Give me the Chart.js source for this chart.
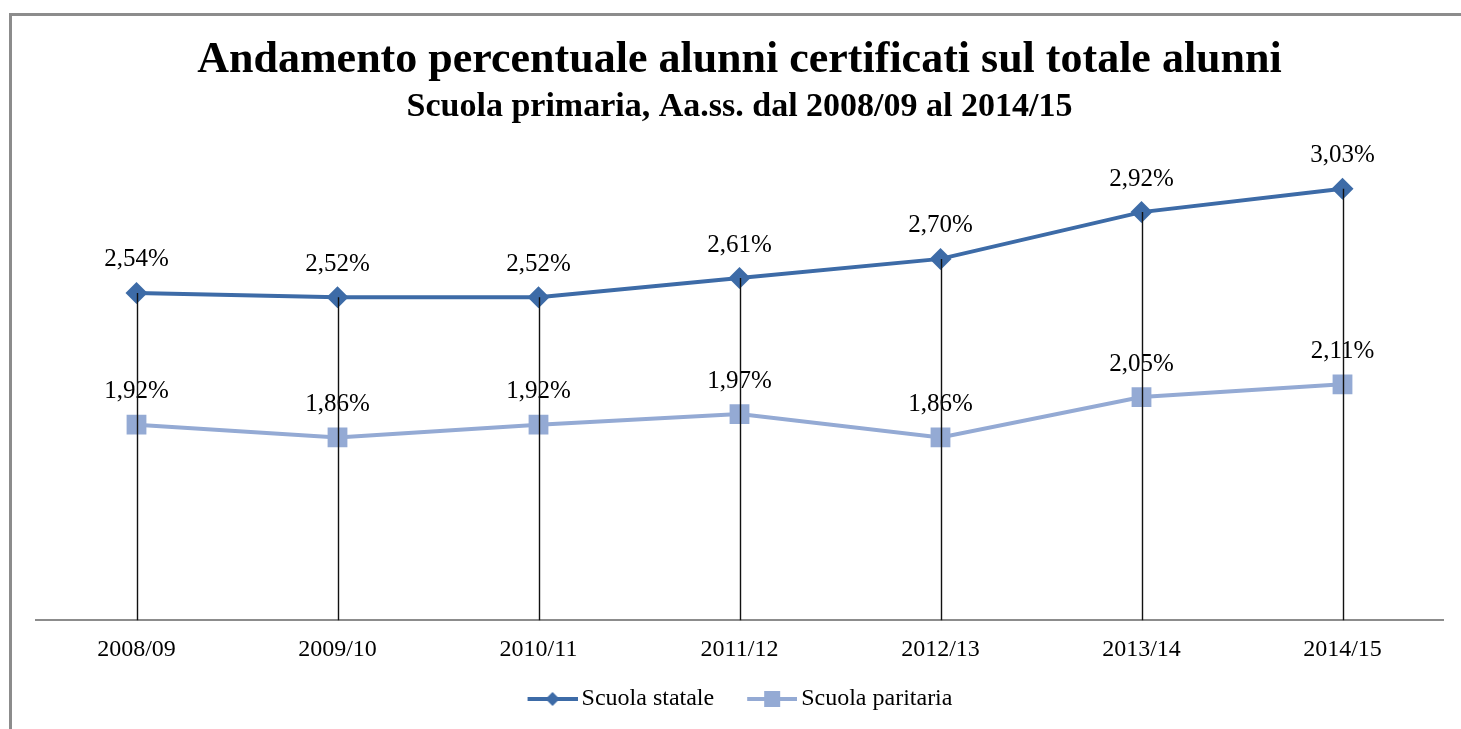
<!DOCTYPE html>
<html>
<head>
<meta charset="utf-8">
<script src="https://cdn.jsdelivr.net/npm/chart.js@4.4.0/dist/chart.umd.min.js"></script>
<style>
  html, body { margin: 0; padding: 0; background: #fff; }
  #wrap { position: relative; width: 1461px; height: 729px; }
</style>
</head>
<body>
<div id="wrap"><canvas id="grafico"></canvas></div>
<script>
// dati
const anni = ['2008/09', '2009/10', '2010/11', '2011/12', '2012/13', '2013/14', '2014/15'];
const statale = [2.54, 2.52, 2.52, 2.61, 2.70, 2.92, 3.03];
const paritaria = [1.92, 1.86, 1.92, 1.97, 1.86, 2.05, 2.11];
const nomiSerie = ['Scuola statale', 'Scuola paritaria'];
const titolo = 'Andamento percentuale alunni certificati sul totale alunni';
const sottotitolo = 'Scuola primaria, Aa.ss. dal 2008/09 al 2014/15';

const colori = ['#3D6BA7', '#94AAD4'];
const FONT = "'Liberation Serif', 'Times New Roman', serif";

const fmt = v => v.toFixed(2).replace('.', ',') + '%';

// campione della legenda: linea con marcatore al centro
function campione(colore, tipo) {
    const c = document.createElement('canvas');
    c.width = 83; c.height = 24;
    const g = c.getContext('2d');
    g.strokeStyle = colore;
    g.lineWidth = 4;
    g.beginPath(); g.moveTo(33, 12); g.lineTo(83, 12); g.stroke();
    g.fillStyle = colore;
    g.beginPath();
    if (tipo === 'rombo') {
        g.moveTo(58, 5); g.lineTo(65, 12); g.lineTo(58, 19); g.lineTo(51, 12);
    } else {
        g.rect(50, 4, 16, 16);
    }
    g.fill();
    return c;
}
const campioni = [campione(colori[0], 'rombo'), campione(colori[1], 'quadrato')];

// cornice + piccolo spostamento della legenda
const cornice = {
    id: 'cornice',
    afterLayout(chart) {
        chart.legend.left -= 12;
        chart.legend.right -= 12;
    },
    beforeDraw(chart) {
        const ctx = chart.ctx;
        ctx.save();
        ctx.fillStyle = '#fff';
        ctx.fillRect(0, 0, chart.width, chart.height);
        ctx.strokeStyle = '#8c8c8c';
        ctx.lineWidth = 3;
        ctx.strokeRect(10.5, 14.5, 2000, 2000);
        ctx.restore();
    }
};

// etichette dati e linee di proiezione
const etichette = {
    id: 'etichette',
    afterDatasetsDraw(chart) {
        const ctx = chart.ctx;
        const fondo = chart.chartArea.bottom;
        ctx.save();
        ctx.font = '25px ' + FONT;
        ctx.fillStyle = '#000';
        ctx.textAlign = 'center';
        ctx.textBaseline = 'middle';
        chart.data.datasets.forEach((ds, i) => {
            chart.getDatasetMeta(i).data.forEach((p, j) => {
                ctx.fillText(fmt(ds.data[j]), p.x, p.y - 33);
            });
        });
        // linee verticali dal punto più alto all'asse
        const m0 = chart.getDatasetMeta(0).data;
        const m1 = chart.getDatasetMeta(1).data;
        ctx.strokeStyle = '#111';
        ctx.lineWidth = 1.4;
        m0.forEach((p, j) => {
            const top = Math.min(p.y, m1[j].y);
            ctx.beginPath();
            ctx.moveTo(Math.round(p.x) + 0.5, top);
            ctx.lineTo(Math.round(p.x) + 0.5, fondo);
            ctx.stroke();
        });
        ctx.restore();
    }
};

new Chart(document.getElementById('grafico'), {
    type: 'line',
    data: {
        labels: anni,
        datasets: [{
            label: nomiSerie[0],
            data: statale,
            borderColor: colori[0],
            backgroundColor: colori[0],
            borderWidth: 4,
            pointStyle: 'rectRot',
            pointRadius: 11,
            pointBorderWidth: 0,
            tension: 0,
        }, {
            label: nomiSerie[1],
            data: paritaria,
            borderColor: colori[1],
            backgroundColor: colori[1],
            borderWidth: 4,
            pointStyle: 'rect',
            pointRadius: 14,
            pointBorderWidth: 0,
            tension: 0,
        }],
    },
    options: {
        responsive: true,
        maintainAspectRatio: false,
        animation: false,
        layout: { padding: { left: 36, right: 18, top: 20, bottom: 8 } },
        scales: {
            x: {
                offset: true,
                grid: { display: false, drawTicks: false },
                border: { display: true, color: '#8c8c8c', width: 2 },
                ticks: { color: '#000', font: { family: FONT, size: 24 }, padding: 15 },
            },
            y: {
                display: false,
                min: 1.0,
                max: 3.28,
            },
        },
        plugins: {
            title: {
                display: true,
                text: titolo,
                color: '#000',
                font: { family: FONT, size: 44, weight: 'bold' },
                padding: { top: 14, bottom: 0 },
            },
            subtitle: {
                display: true,
                text: sottotitolo,
                color: '#000',
                font: { family: FONT, size: 34, weight: 'bold' },
                padding: { top: 0, bottom: 8 },
            },
            legend: {
                display: true,
                position: 'bottom',
                labels: {
                    color: '#000',
                    font: { family: FONT, size: 24 },
                    usePointStyle: true,
                    pointStyleWidth: 67,
                    boxHeight: 24,
                    padding: 8,
                    generateLabels(chart) {
                        return chart.data.datasets.map((ds, i) => ({
                            text: ds.label,
                            pointStyle: campioni[i],
                            fillStyle: ds.backgroundColor,
                            strokeStyle: ds.borderColor,
                            lineWidth: 0,
                            hidden: false,
                            datasetIndex: i,
                            fontColor: '#000',
                        }));
                    },
                },
            },
            tooltip: { enabled: false },
        },
    },
    plugins: [cornice, etichette],
});
</script>
</body>
</html>
